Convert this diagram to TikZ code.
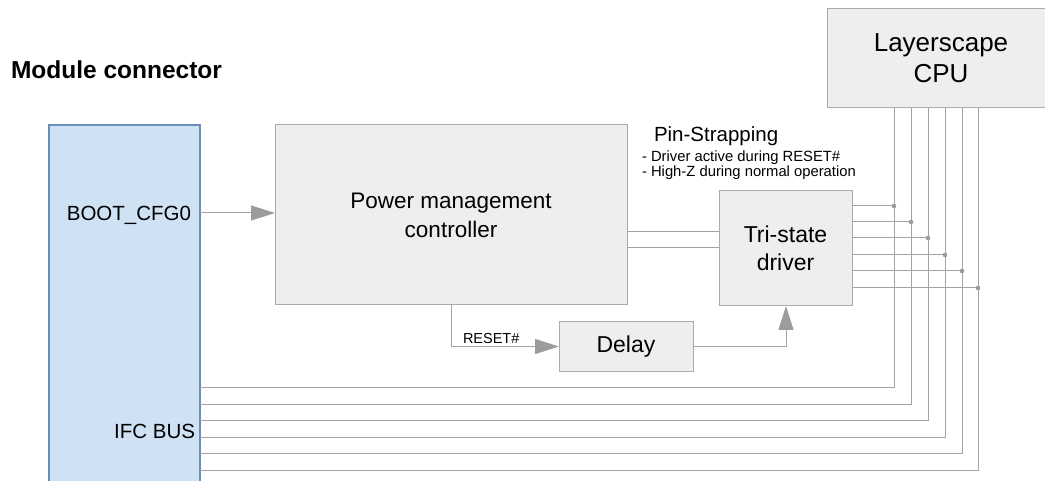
\documentclass[tikz,border=0pt]{standalone}
\usepackage{fontspec}
\setmainfont{Liberation Sans}
\usetikzlibrary{arrows.meta}
\definecolor{boxfill}{HTML}{EEEEEE}
\definecolor{boxline}{HTML}{ABABAB}
\definecolor{wirec}{HTML}{A3A3A3}
\definecolor{tipc}{HTML}{9C9C9C}
\definecolor{dotc}{HTML}{9C9C9C}
\definecolor{modfill}{HTML}{CFE2F3}
\definecolor{modline}{HTML}{6C8EBF}
\begin{document}
\begin{tikzpicture}[x=1pt,y=-1pt,
  graybox/.style={draw=boxline,fill=boxfill,line width=1pt,inner sep=0pt,outer sep=0pt,align=center},
  wireline/.style={draw=wirec,line width=1pt},
  arr/.style={wireline,-{Triangle[length=24pt,width=15pt,color=tipc]}},
  lbl/.style={inner sep=0pt,outer sep=0pt,text=black}]
\useasboundingbox (0,0) rectangle (1045,481);
\clip (0,0) rectangle (1045,481);

% blocks
\node[draw=modline,fill=modfill,line width=1.2pt,inner sep=0pt,outer sep=0pt,
      minimum width=151pt,minimum height=366pt] (mod) at (124.5,308) {};
\node[graybox,minimum width=352pt,minimum height=180pt,
      font=\fontsize{22.5}{29}\selectfont] (pmc) at (451,215) {Power management\\controller};
\node[graybox,minimum width=133pt,minimum height=115pt,
      font=\fontsize{23}{28}\selectfont] (tsd) at (785.5,248.5) {Tri-state\\driver};
\node[graybox,minimum width=134pt,minimum height=49pt,
      font=\fontsize{23}{28}\selectfont] (delay) at (626,346.5) {Delay};
\node[graybox,minimum width=228pt,minimum height=99pt,
      font=\fontsize{26}{31}\selectfont] (cpu) at (941,58.5) {Layerscape\\CPU};

% labels
\node[lbl,anchor=base west,font=\bfseries\fontsize{24.5}{28}\selectfont] (title) at (11,79) {Module connector};
\node[lbl,anchor=base east,font=\fontsize{20.5}{24}\selectfont] (boot) at (191,221) {BOOT\_CFG0};
\node[lbl,anchor=base east,font=\fontsize{20.5}{24}\selectfont] (ifc) at (195,438) {IFC BUS};
\node[lbl,anchor=base west,font=\fontsize{14.5}{17}\selectfont] (rst) at (463,343) {RESET\#};
\node[lbl,anchor=base west,font=\fontsize{20.5}{24}\selectfont] (pin) at (654,142) {Pin-Strapping};
\node[lbl,anchor=base west,font=\fontsize{14.8}{17}\selectfont] (pin1) at (642,162) {- Driver active during RESET\#};
\node[lbl,anchor=base west,font=\fontsize{14.8}{17}\selectfont] (pin2) at (642,177) {- High-Z during normal operation};

% connectors
\coordinate (bootc) at (0,213);
\draw[arr] (mod.east |- bootc) -- (pmc.west |- bootc);
\coordinate (pl1) at (0,232);
\coordinate (pl2) at (0,248);
\draw[wireline] (pmc.east |- pl1) -- (tsd.west |- pl1);
\draw[wireline] (pmc.east |- pl2) -- (tsd.west |- pl2);
\coordinate (rstx) at (451,0);
\draw[arr] (pmc.south -| rstx) |- (delay.west);
\coordinate (dlx) at (786,0);
\draw[arr] (delay.east) -| (tsd.south -| dlx);

\foreach \i/\x/\y/\yb in {1/894/206/387, 2/911/222/404, 3/928/238/420, 4/945/255/437, 5/962/271/453, 6/978/288/470}{
  \coordinate (tap\i) at (\x,\y);
  \coordinate (bend\i) at (\x,\yb);
  \draw[wireline] (cpu.south -| tap\i) -- (bend\i) -- (mod.east |- bend\i);
  \draw[wireline] (tsd.east |- tap\i) -- (tap\i);
  \fill[dotc] (tap\i) circle[radius=2.3pt];
}
\end{tikzpicture}
\end{document}
